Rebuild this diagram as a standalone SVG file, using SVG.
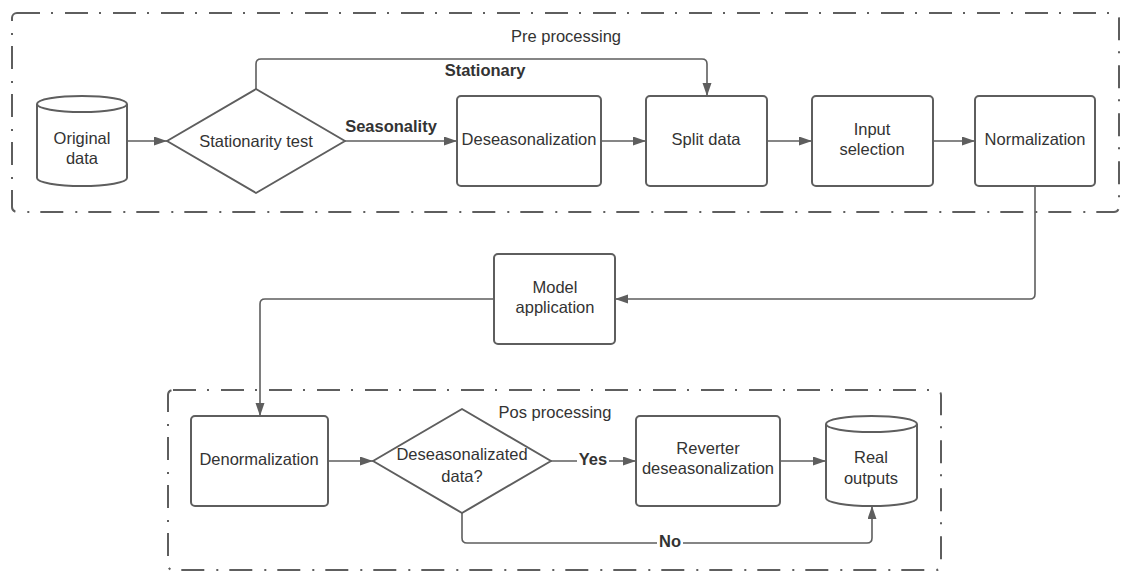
<svg xmlns="http://www.w3.org/2000/svg" width="1134" height="585" viewBox="0 0 1134 585">
<defs>
<style>
.grp{fill:none;stroke:#5e5e5e;stroke-width:2;stroke-dasharray:23 11 2 12}
.box{fill:#ffffff;stroke:#5e5e5e;stroke-width:2}
.con{fill:none;stroke:#5e5e5e;stroke-width:1.6}
text{font-family:"Liberation Sans",Arial,sans-serif;font-size:16.5px;fill:#333333;text-anchor:middle}
.b{font-weight:bold}
</style>
<marker id="arr" markerUnits="userSpaceOnUse" markerWidth="14" markerHeight="10" refX="13" refY="4.5" orient="auto">
<path d="M0,0 L13,4.5 L0,9 Z" fill="#5e5e5e"/>
</marker>
</defs>
<rect width="1134" height="585" fill="#ffffff"/>
<g id="pre-processing">
<rect class="grp" x="12" y="13" width="1107" height="199" rx="5"/>
<text x="566" y="42">Pre processing</text>
</g>
<g id="pos-processing">
<rect class="grp" x="168" y="390" width="773" height="180" rx="5"/>
<text x="555" y="418">Pos processing</text>
</g>
<g id="connectors">
<path class="con" d="M127,141 H167" marker-end="url(#arr)"/>
<path class="con" d="M345,141 H457" marker-end="url(#arr)"/>
<path class="con" d="M256,89 V64 Q256,59 261,59 H702 Q707,59 707,64 V96" marker-end="url(#arr)"/>
<path class="con" d="M601,141 H646" marker-end="url(#arr)"/>
<path class="con" d="M767,141 H812" marker-end="url(#arr)"/>
<path class="con" d="M933,141 H975" marker-end="url(#arr)"/>
<path class="con" d="M1035,186 V294 Q1035,299 1030,299 H615" marker-end="url(#arr)"/>
<path class="con" d="M494,299 H265 Q260,299 260,304 V416" marker-end="url(#arr)"/>
<path class="con" d="M328,461 H373" marker-end="url(#arr)"/>
<path class="con" d="M551,461 H636" marker-end="url(#arr)"/>
<path class="con" d="M780,461 H826" marker-end="url(#arr)"/>
<path class="con" d="M462,513 V538 Q462,543 467,543 H867 Q872,543 872,538 V506" marker-end="url(#arr)"/>
<text class="b" x="391" y="132">Seasonality</text>
<text class="b" x="485" y="76">Stationary</text>
<rect x="577" y="450" width="32" height="20" fill="#ffffff"/>
<text class="b" x="593" y="465">Yes</text>
<rect x="657" y="532" width="26" height="20" fill="#ffffff"/>
<text class="b" x="670" y="547">No</text>
</g>
<g id="original-data">
<path class="box" d="M37,104 A45,8 0 0 1 127,104 V178 A45,8 0 0 1 37,178 Z"/>
<path class="box" fill="none" d="M37,104 A45,8 0 0 0 127,104"/>
<text x="82" y="144">Original</text>
<text x="82" y="164">data</text>
</g>
<g id="stationarity-test">
<path class="box" d="M256,89 L345,141 L256,193 L167,141 Z" stroke-linejoin="round"/>
<text x="256" y="147">Stationarity test</text>
</g>
<g id="deseasonalization">
<rect class="box" x="457" y="96" width="144" height="90" rx="4"/>
<text x="529" y="145">Deseasonalization</text>
</g>
<g id="split-data">
<rect class="box" x="646" y="96" width="121" height="90" rx="4"/>
<text x="706" y="145">Split data</text>
</g>
<g id="input-selection">
<rect class="box" x="812" y="96" width="121" height="90" rx="4"/>
<text x="872" y="135">Input</text>
<text x="872" y="155">selection</text>
</g>
<g id="normalization">
<rect class="box" x="975" y="96" width="120" height="90" rx="4"/>
<text x="1035" y="145">Normalization</text>
</g>
<g id="model-application">
<rect class="box" x="494" y="254" width="121" height="90" rx="4"/>
<text x="555" y="293">Model</text>
<text x="555" y="313">application</text>
</g>
<g id="denormalization">
<rect class="box" x="191" y="416" width="137" height="90" rx="4"/>
<text x="259" y="465">Denormalization</text>
</g>
<g id="deseasonalizated-data">
<path class="box" d="M462,409 L551,461 L462,513 L373,461 Z" stroke-linejoin="round"/>
<text x="462" y="460">Deseasonalizated</text>
<text x="462" y="482">data?</text>
</g>
<g id="reverter-deseasonalization">
<rect class="box" x="636" y="416" width="144" height="90" rx="4"/>
<text x="708" y="454">Reverter</text>
<text x="708" y="474">deseasonalization</text>
</g>
<g id="real-outputs">
<path class="box" d="M826,424 A45.5,8 0 0 1 917,424 V498 A45.5,8 0 0 1 826,498 Z"/>
<path class="box" fill="none" d="M826,424 A45.5,8 0 0 0 917,424"/>
<text x="871" y="463">Real</text>
<text x="871" y="484">outputs</text>
</g>
</svg>
